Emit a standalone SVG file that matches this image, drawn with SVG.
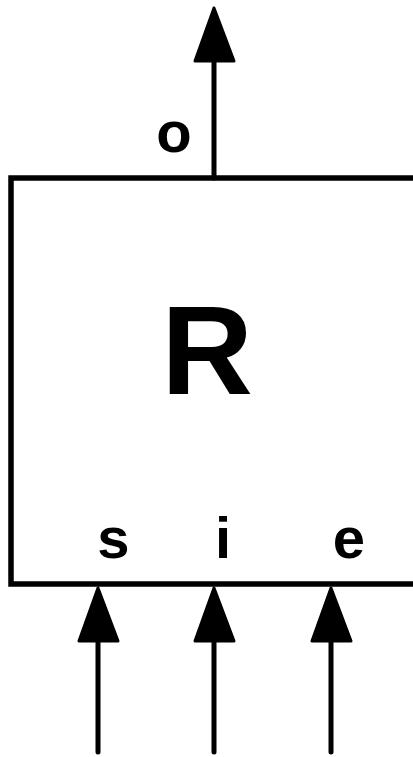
<svg xmlns="http://www.w3.org/2000/svg" width="413" height="757" viewBox="0 0 413 757">
<style>
.ln{stroke:#000;stroke-width:5;fill:none;stroke-linecap:round}
.ah{fill:#000;stroke:#000;stroke-width:3;stroke-linejoin:round}
.lbl{font-family:"Liberation Sans",Arial,sans-serif;font-weight:bold;text-anchor:middle;fill:#000}
</style>
<rect width="413" height="757" fill="#fff"/>
<g id="R">
<rect x="11" y="178" width="430" height="406" fill="#fff" stroke="#000" stroke-width="5.5"/>
<text class="lbl" x="207" y="394" font-size="127">R</text>
<text class="lbl" x="174" y="152" font-size="58">o</text>
<text class="lbl" x="113.5" y="558" font-size="58">s</text>
<text class="lbl" x="223" y="558" font-size="58">i</text>
<text class="lbl" x="349" y="558" font-size="58">e</text>
</g>
<g id="connectors">
<line class="ln" x1="214" y1="178" x2="214" y2="55"/>
<polygon class="ah" points="214,8 195,61 234,61"/>
<line class="ln" x1="98" y1="752" x2="98" y2="635"/>
<polygon class="ah" points="98,588 79,641 118,641"/>
<line class="ln" x1="214" y1="752" x2="214" y2="635"/>
<polygon class="ah" points="214,588 195,641 234,641"/>
<line class="ln" x1="331" y1="752" x2="331" y2="635"/>
<polygon class="ah" points="331,588 312,641 351,641"/>
</g>
</svg>
